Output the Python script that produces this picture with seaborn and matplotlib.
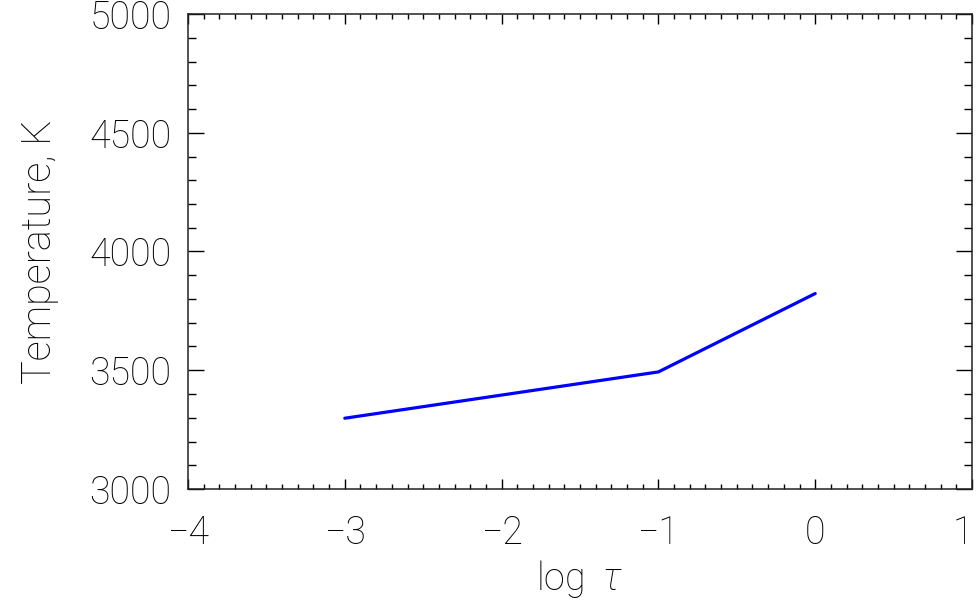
import numpy as np
import pandas as pd
import seaborn as sns
import matplotlib
matplotlib.use("Agg")
import matplotlib.pyplot as plt
from matplotlib.ticker import MultipleLocator, FuncFormatter

log_tau = [-3, -1, 0]
temperature = [3298, 3493, 3823]

sns.set_style("ticks")
plt.rcParams['font.family'] = ['Roboto', 'DejaVu Sans']
plt.rcParams['font.weight'] = 'light'
plt.rcParams['text.color'] = 'black'
plt.rcParams['xtick.color'] = 'black'
plt.rcParams['ytick.color'] = 'black'
plt.rcParams['axes.labelcolor'] = 'black'
plt.rcParams['mathtext.fontset'] = 'custom'
plt.rcParams['mathtext.rm'] = 'Roboto:light'
plt.rcParams['mathtext.it'] = 'Roboto:italic:light'

fig = plt.figure(figsize=(9.78, 6.03), dpi=100)
ax = fig.add_axes([188 / 978, 1 - 489 / 603, (972 - 188) / 978, (489 - 14) / 603])

df = pd.DataFrame({'log_tau': log_tau, 'T': temperature})
sns.lineplot(data=df, x='log_tau', y='T', ax=ax, color='#0000ff', linewidth=2.3)

ax.set_xlim(-4, 1)
ax.set_ylim(3000, 5000)
ax.xaxis.set_major_locator(MultipleLocator(1))
ax.xaxis.set_minor_locator(MultipleLocator(0.1))
ax.yaxis.set_major_locator(MultipleLocator(500))
ax.yaxis.set_minor_locator(MultipleLocator(100))

# last x label ("1") is drawn right-aligned below so it stays inside the figure
ax.xaxis.set_major_formatter(FuncFormatter(
    lambda v, p: '' if v >= 1 else f'{v:.0f}'.replace('-', '\u2212')))

ax.tick_params(axis='x', which='major', direction='in', top=True, bottom=True,
               length=7, width=1, labelsize=27, pad=18)
ax.tick_params(axis='x', which='minor', direction='in', top=True, bottom=True,
               length=3.5, width=1)
ax.tick_params(axis='y', which='major', direction='in', left=True, right=True,
               length=11.5, width=1, labelsize=27, pad=12)
ax.tick_params(axis='y', which='minor', direction='in', left=True, right=True,
               length=6, width=1)
for s in ax.spines.values():
    s.set_linewidth(1.1)
    s.set_color('#222222')

ax.annotate('1', xy=(1, 0), xycoords=('data', 'axes fraction'),
            xytext=(1, -18), textcoords='offset points',
            ha='right', va='top', fontsize=27, fontweight='light',
            annotation_clip=False)

ax.set_xlabel('log  $\\tau$', fontsize=27, fontweight='light', labelpad=5)
ax.set_ylabel('Temperature, K', fontsize=28.5, fontweight='light', labelpad=22)

fig.savefig('out.png', dpi=100)
